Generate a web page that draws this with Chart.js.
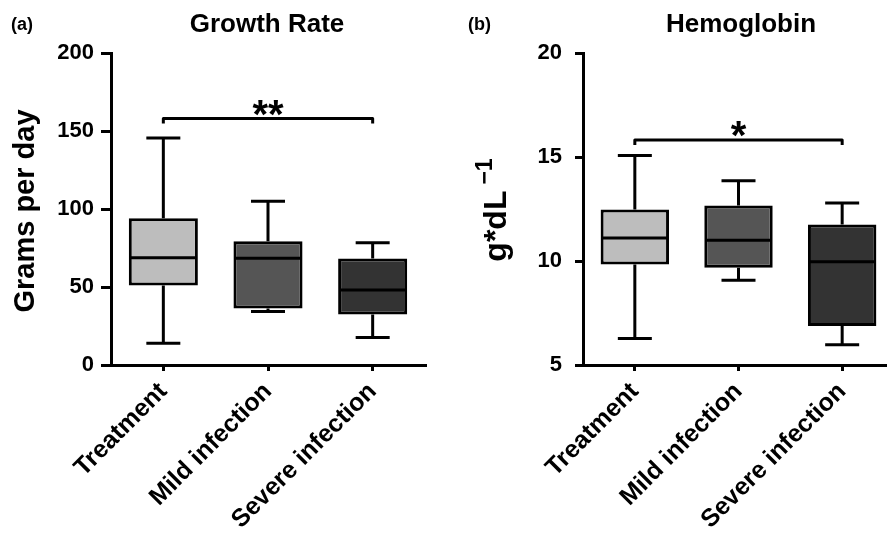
<!DOCTYPE html>
<html>
<head>
<meta charset="utf-8">
<script src="https://cdn.jsdelivr.net/npm/chart.js@4/dist/chart.umd.min.js"></script>
<style>
  html, body { margin:0; padding:0; background:#fff; overflow:hidden; width:887px; height:535px; }
  #wrapA { position:absolute; left:0; top:0; width:440px; height:535px; }
  #wrapB { position:absolute; left:440px; top:0; width:460px; height:535px; }
</style>
</head>
<body>
<div id="wrapA"><canvas id="chartA" width="440" height="535"></canvas></div>
<div id="wrapB"><canvas id="chartB" width="460" height="535"></canvas></div>
<script>
// ---------- data ----------
const categories = ['Treatment', 'Mild infection', 'Severe infection'];
const boxColors = ['#bdbdbd', '#555555', '#333333'];

const growthMin    = [13.9, 34.3, 17.7];
const growthQ1     = [51.0, 36.2, 32.4];
const growthMedian = [68.8, 68.4, 48.1];
const growthQ3     = [94.0, 79.4, 68.2];
const growthMax    = [145.5, 105.0, 78.4];
const growthTicks  = [0, 50, 100, 150, 200];
const growthSigLevel = 158;
const growthSigText  = '**';

const hbMin    = [6.28, 9.07, 5.97];
const hbQ1     = [9.83, 9.68, 6.88];
const hbMedian = [11.11, 11.0, 9.96];
const hbQ3     = [12.47, 12.67, 11.75];
const hbMax    = [15.07, 13.86, 12.79];
const hbTicks  = [5, 10, 15, 20];
const hbSigLevel = 15.82;
const hbSigText  = '*';

const FONT = '"Liberation Sans", Arial, Helvetica, sans-serif';

// ---------- decoration plugin (whiskers, medians, brackets, texts) ----------
const decor = {
  id: 'decor',
  afterDraw(chart, args, o) {
    const ctx = chart.ctx;
    const xs = chart.scales.x, ys = chart.scales.y;
    const meta = chart.getDatasetMeta(0);
    ctx.save();
    ctx.strokeStyle = '#000';
    ctx.lineWidth = 3;
    ctx.lineCap = 'butt';
    o.min.forEach((mn, i) => {
      const cx = xs.getPixelForValue(i);
      const bw = meta.data[i].width;
      const pMin = ys.getPixelForValue(mn);
      const pQ1 = ys.getPixelForValue(o.q1[i]);
      const pMed = ys.getPixelForValue(o.median[i]);
      const pQ3 = ys.getPixelForValue(o.q3[i]);
      const pMax = ys.getPixelForValue(o.max[i]);
      ctx.beginPath();
      ctx.moveTo(cx, pQ3); ctx.lineTo(cx, pMax);
      ctx.moveTo(cx - 17, pMax); ctx.lineTo(cx + 17, pMax);
      ctx.moveTo(cx, pQ1); ctx.lineTo(cx, pMin);
      ctx.moveTo(cx - 17, pMin); ctx.lineTo(cx + 17, pMin);
      ctx.moveTo(cx - bw / 2 + 2, pMed); ctx.lineTo(cx + bw / 2 - 2, pMed);
      ctx.stroke();
    });
    // significance bracket
    const bx0 = xs.getPixelForValue(0), bx1 = xs.getPixelForValue(2);
    const by = ys.getPixelForValue(o.sigLevel);
    ctx.lineJoin = 'round';
    ctx.beginPath();
    ctx.moveTo(bx0, by + 5); ctx.lineTo(bx0, by); ctx.lineTo(bx1, by); ctx.lineTo(bx1, by + 5);
    ctx.stroke();
    ctx.fillStyle = '#000';
    ctx.textAlign = 'center';
    ctx.textBaseline = 'alphabetic';
    ctx.font = 'bold 40px ' + FONT;
    ctx.fillText(o.sigText, (bx0 + bx1) / 2, by + 9);
    // title
    ctx.font = 'bold 26px ' + FONT;
    ctx.fillText(o.title, o.titleX, 32);
    // panel letter
    ctx.textAlign = 'left';
    ctx.font = 'bold 18px ' + FONT;
    ctx.fillText(o.letter, o.letterX, 30);
    // y axis title (rotated)
    const cy = o.yTitleY;
    ctx.translate(o.yTitleX, cy);
    ctx.rotate(-Math.PI / 2);
    ctx.font = 'bold ' + o.yTitleSize + 'px ' + FONT;
    if (o.yTitleSup) {
      const w1 = ctx.measureText(o.yTitle).width;
      ctx.font = 'bold 23px ' + FONT;
      const w2 = ctx.measureText(o.yTitleSup).width;
      const gap = 6;
      const total = w1 + gap + w2;
      ctx.font = 'bold ' + o.yTitleSize + 'px ' + FONT;
      ctx.fillText(o.yTitle, -total / 2, 0);
      ctx.font = 'bold 23px ' + FONT;
      ctx.fillText(o.yTitleSup, -total / 2 + w1 + gap, -14);
    } else {
      ctx.textAlign = 'center';
      ctx.fillText(o.yTitle, 0, 0);
    }
    ctx.restore();
  }
};

function makeChart(id, cfg) {
  const boxes = categories.map((_, i) => [cfg.q1[i], cfg.q3[i]]);
  return new Chart(document.getElementById(id), {
    type: 'bar',
    data: {
      labels: categories,
      datasets: [{
        data: boxes,
        backgroundColor: boxColors,
        borderColor: '#000',
        borderWidth: 3,
        borderSkipped: false,
        barPercentage: 0.66,
        categoryPercentage: 1.0
      }]
    },
    options: {
      responsive: false,
      animation: false,
      devicePixelRatio: 1,
      layout: { padding: { left: 0, top: 53, right: cfg.padRight, bottom: 0 } },
      plugins: {
        legend: { display: false },
        tooltip: { enabled: false },
        title: { display: false },
        decor: {
          min: cfg.min, q1: cfg.q1, median: cfg.median, q3: cfg.q3, max: cfg.max,
          sigLevel: cfg.sigLevel, sigText: cfg.sigText,
          title: cfg.title, titleX: cfg.titleX,
          letter: cfg.letter, letterX: cfg.letterX,
          yTitle: cfg.yTitle, yTitleSup: cfg.yTitleSup, yTitleSize: cfg.yTitleSize,
          yTitleX: cfg.yTitleX, yTitleY: cfg.yTitleY
        }
      },
      scales: {
        x: {
          offset: true,
          grid: { display: true, drawOnChartArea: false, drawTicks: true, tickLength: 6, lineWidth: 3, color: '#000', offset: false },
          border: { display: true, width: 3, color: '#000' },
          ticks: {
            color: '#000', font: { family: FONT, size: 25, weight: 'bold' },
            minRotation: 45, maxRotation: 45, padding: 6, autoSkip: false
          },
          afterFit(s) { s.height = 535 - 365; }
        },
        y: {
          min: cfg.ticks[0],
          max: cfg.ticks[cfg.ticks.length - 1],
          afterBuildTicks(s) { s.ticks = cfg.ticks.map(v => ({ value: v })); },
          grid: { display: true, drawOnChartArea: false, drawTicks: true, tickLength: cfg.tickLen, lineWidth: 3, color: '#000' },
          border: { display: true, width: 3, color: '#000' },
          ticks: {
            color: '#000', font: { family: FONT, size: 22, weight: 'bold' },
            padding: cfg.tickPad
          },
          afterFit(s) { s.width = cfg.yWidth; }
        }
      }
    },
    plugins: [decor]
  });
}

makeChart('chartA', {
  min: growthMin, q1: growthQ1, median: growthMedian, q3: growthQ3, max: growthMax,
  ticks: growthTicks, sigLevel: growthSigLevel, sigText: growthSigText,
  title: 'Growth Rate', titleX: 267, letter: '(a)', letterX: 11,
  yTitle: 'Grams per day', yTitleSup: null, yTitleSize: 29, yTitleX: 34, yTitleY: 211,
  yWidth: 111, padRight: 15, tickLen: 10, tickPad: 7
});

makeChart('chartB', {
  min: hbMin, q1: hbQ1, median: hbMedian, q3: hbQ3, max: hbMax,
  ticks: hbTicks, sigLevel: hbSigLevel, sigText: hbSigText,
  title: 'Hemoglobin', titleX: 301, letter: '(b)', letterX: 28,
  yTitle: 'g*dL', yTitleSup: '\u22121', yTitleSize: 32, yTitleX: 66, yTitleY: 210,
  yWidth: 143, padRight: 6, tickLen: 8, tickPad: 13
});
</script>
</body>
</html>
